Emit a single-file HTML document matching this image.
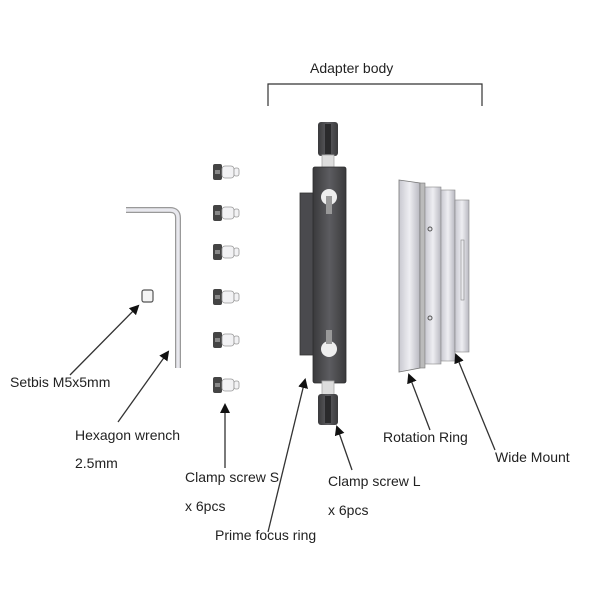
<!DOCTYPE html>
<html><head><style>
html,body{margin:0;padding:0;background:#fff;}
svg{display:block;}
text{font-family:"Liberation Sans",sans-serif;font-size:14px;fill:#222;}
</style></head><body>
<svg width="600" height="600" viewBox="0 0 600 600" xmlns="http://www.w3.org/2000/svg">
<defs>
<linearGradient id="dk" x1="0" x2="1"><stop offset="0" stop-color="#3a3a3c"/><stop offset="0.5" stop-color="#5c5c60"/><stop offset="1" stop-color="#3a3a3c"/></linearGradient>
<linearGradient id="lt" x1="0" x2="1"><stop offset="0" stop-color="#c8c8d0"/><stop offset="0.5" stop-color="#eeeef2"/><stop offset="1" stop-color="#b8b8c0"/></linearGradient>
<marker id="ah" markerWidth="10" markerHeight="10" refX="8" refY="5" orient="auto" markerUnits="userSpaceOnUse"><path d="M0,0 L10,5 L0,10 Z" fill="#111"/></marker>
<g id="ss"><rect x="0" y="-1" width="9" height="16" rx="2" fill="#444"/><rect x="2" y="5" width="5" height="4" fill="#888"/><rect x="9" y="1" width="12" height="12" rx="3" fill="#f2f2f4" stroke="#999" stroke-width="0.8"/><rect x="21" y="3" width="5" height="8" rx="2" fill="#f2f2f4" stroke="#999" stroke-width="0.8"/></g>
</defs>
<text x="310" y="73">Adapter body</text>
<path d="M268,106 V84 H482 V106" fill="none" stroke="#333" stroke-width="1.2"/>

<path d="M126,210 H170 Q178,210 178,218 V368" fill="none" stroke="#999" stroke-width="6"/>
<path d="M126,210 H170 Q178,210 178,218 V368" fill="none" stroke="#e8e8ee" stroke-width="3.5"/>
<rect x="142" y="290" width="11" height="12" rx="2" fill="#f4f4f4" stroke="#555" stroke-width="1.2"/>

<use href="#ss" x="213" y="165"/>
<use href="#ss" x="213" y="206"/>
<use href="#ss" x="213" y="245"/>
<use href="#ss" x="213" y="290"/>
<use href="#ss" x="213" y="333"/>
<use href="#ss" x="213" y="378"/>

<rect x="318" y="122" width="20" height="34" rx="3" fill="url(#dk)"/>
<rect x="325" y="124" width="6" height="30" fill="#2a2a2c"/>
<rect x="322" y="155" width="12" height="13" fill="#ddd" stroke="#aaa" stroke-width="0.8"/>
<rect x="300" y="193" width="16" height="162" fill="#4a4a4e" stroke="#333" stroke-width="0.8"/>
<rect x="313" y="167" width="33" height="216" rx="2" fill="url(#dk)" stroke="#2c2c2e" stroke-width="0.8"/>
<circle cx="329" cy="197" r="8" fill="#eee"/><rect x="326" y="196" width="6" height="18" fill="#999"/>
<circle cx="329" cy="349" r="8" fill="#eee"/><rect x="326" y="330" width="6" height="14" fill="#999"/>
<rect x="322" y="381" width="12" height="14" fill="#ddd" stroke="#aaa" stroke-width="0.8"/>
<rect x="318" y="394" width="20" height="31" rx="3" fill="url(#dk)"/>
<rect x="325" y="396" width="6" height="27" fill="#2a2a2c"/>

<path d="M399,180 L420,183 V368 L399,372 Z" fill="url(#lt)" stroke="#777" stroke-width="0.8"/>
<rect x="420" y="183" width="5" height="185" fill="#bbb" stroke="#777" stroke-width="0.6"/>
<rect x="425" y="187" width="16" height="177" fill="url(#lt)" stroke="#888" stroke-width="0.6"/>
<circle cx="430" cy="229" r="2" fill="none" stroke="#555"/>
<circle cx="430" cy="318" r="2" fill="none" stroke="#555"/>
<rect x="441" y="190" width="14" height="171" fill="url(#lt)" stroke="#888" stroke-width="0.6"/>
<rect x="455" y="200" width="14" height="152" fill="url(#lt)" stroke="#888" stroke-width="0.6"/>
<rect x="461" y="240" width="3" height="60" fill="none" stroke="#888" stroke-width="0.6"/>

<g stroke="#333" stroke-width="1.3" fill="none" marker-end="url(#ah)">
<line x1="70" y1="375" x2="138" y2="306"/>
<line x1="118" y1="422" x2="168" y2="352"/>
<line x1="225" y1="468" x2="225" y2="405"/>
<line x1="268" y1="532" x2="305" y2="380"/>
<line x1="352" y1="470" x2="337" y2="427"/>
<line x1="430" y1="430" x2="409" y2="375"/>
<line x1="495" y1="450" x2="456" y2="355"/>
</g>

<text x="10" y="387">Setbis M5x5mm</text>
<text x="75" y="440">Hexagon wrench</text>
<text x="75" y="468">2.5mm</text>
<text x="185" y="482">Clamp screw S</text>
<text x="185" y="511">x 6pcs</text>
<text x="215" y="540">Prime focus ring</text>
<text x="328" y="486">Clamp screw L</text>
<text x="328" y="515">x 6pcs</text>
<text x="383" y="442">Rotation Ring</text>
<text x="495" y="462">Wide Mount</text>
</svg>
</body></html>
